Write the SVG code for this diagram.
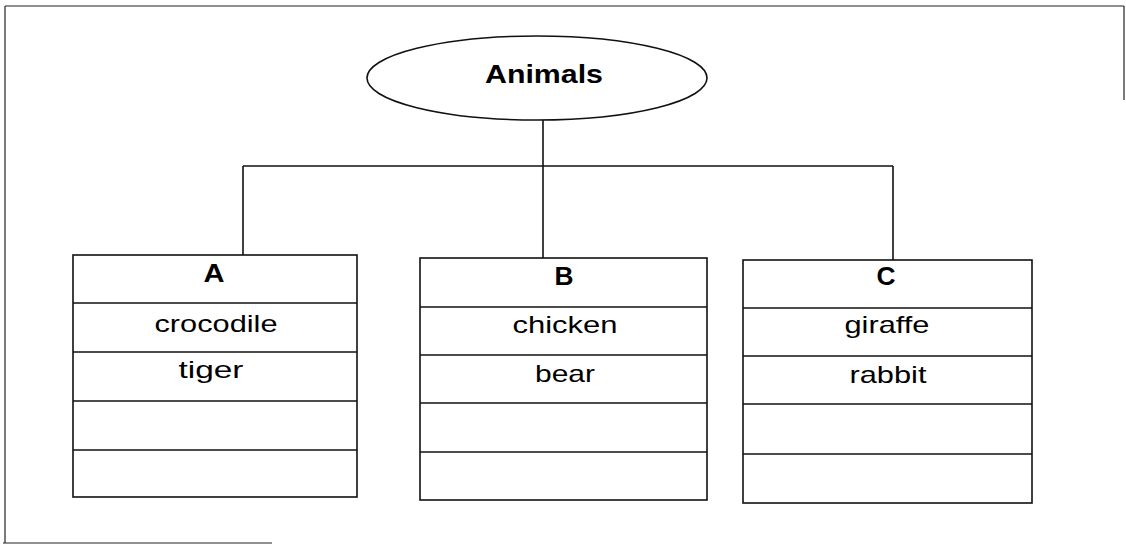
<svg xmlns="http://www.w3.org/2000/svg" width="1126" height="545" viewBox="0 0 1126 545">
<style>
.ln{stroke:#111;stroke-width:1.6;fill:none}
.fr{stroke:#222;stroke-width:1.2;fill:none}
.box{stroke:#111;stroke-width:1.6;fill:#fff}
.hd{font-family:"Liberation Sans",Arial,sans-serif;font-weight:bold;font-size:25px;fill:#000;text-anchor:middle}
.it{font-family:"Liberation Sans",Arial,sans-serif;font-size:24px;fill:#000;text-anchor:middle}
</style>
<rect width="1126" height="545" fill="#fff"/>
<g id="frame" class="fr">
<line x1="5" y1="6" x2="1124" y2="6"/>
<line x1="5" y1="6" x2="5" y2="543"/>
<line x1="1124" y1="6" x2="1124" y2="100"/>
<line x1="3" y1="543" x2="272" y2="543"/>
</g>
<g id="connectors" class="ln">
<line x1="543" y1="120" x2="543" y2="258"/>
<line x1="243" y1="166" x2="893" y2="166"/>
<line x1="243" y1="166" x2="243" y2="255"/>
<line x1="893" y1="166" x2="893" y2="260"/>
</g>
<g id="animals">
<ellipse cx="537" cy="78" rx="170" ry="42" class="box"/>
<text x="544" y="83" class="hd" font-size="27" textLength="118" lengthAdjust="spacingAndGlyphs">Animals</text>
</g>
<g id="A">
<rect x="73" y="255" width="284" height="242" class="box"/>
<line x1="73" y1="303" x2="357" y2="303" class="ln"/>
<line x1="73" y1="352" x2="357" y2="352" class="ln"/>
<line x1="73" y1="401" x2="357" y2="401" class="ln"/>
<line x1="73" y1="450" x2="357" y2="450" class="ln"/>
<text x="214" y="282" class="hd" textLength="21" lengthAdjust="spacingAndGlyphs">A</text>
<text x="216" y="332" class="it" textLength="123" lengthAdjust="spacingAndGlyphs">crocodile</text>
<text x="211" y="378" class="it" textLength="65" lengthAdjust="spacingAndGlyphs">tiger</text>
</g>
<g id="B">
<rect x="420" y="258" width="287" height="242" class="box"/>
<line x1="420" y1="307" x2="707" y2="307" class="ln"/>
<line x1="420" y1="355" x2="707" y2="355" class="ln"/>
<line x1="420" y1="403" x2="707" y2="403" class="ln"/>
<line x1="420" y1="452" x2="707" y2="452" class="ln"/>
<text x="564" y="285" class="hd" textLength="19" lengthAdjust="spacingAndGlyphs">B</text>
<text x="565" y="333" class="it" textLength="105" lengthAdjust="spacingAndGlyphs">chicken</text>
<text x="565" y="382" class="it" textLength="60" lengthAdjust="spacingAndGlyphs">bear</text>
</g>
<g id="C">
<rect x="743" y="260" width="289" height="243" class="box"/>
<line x1="743" y1="308" x2="1032" y2="308" class="ln"/>
<line x1="743" y1="356" x2="1032" y2="356" class="ln"/>
<line x1="743" y1="404" x2="1032" y2="404" class="ln"/>
<line x1="743" y1="454" x2="1032" y2="454" class="ln"/>
<text x="886" y="285" class="hd" textLength="19" lengthAdjust="spacingAndGlyphs">C</text>
<text x="887" y="333" class="it" textLength="85" lengthAdjust="spacingAndGlyphs">giraffe</text>
<text x="888" y="383" class="it" textLength="77" lengthAdjust="spacingAndGlyphs">rabbit</text>
</g>
</svg>
